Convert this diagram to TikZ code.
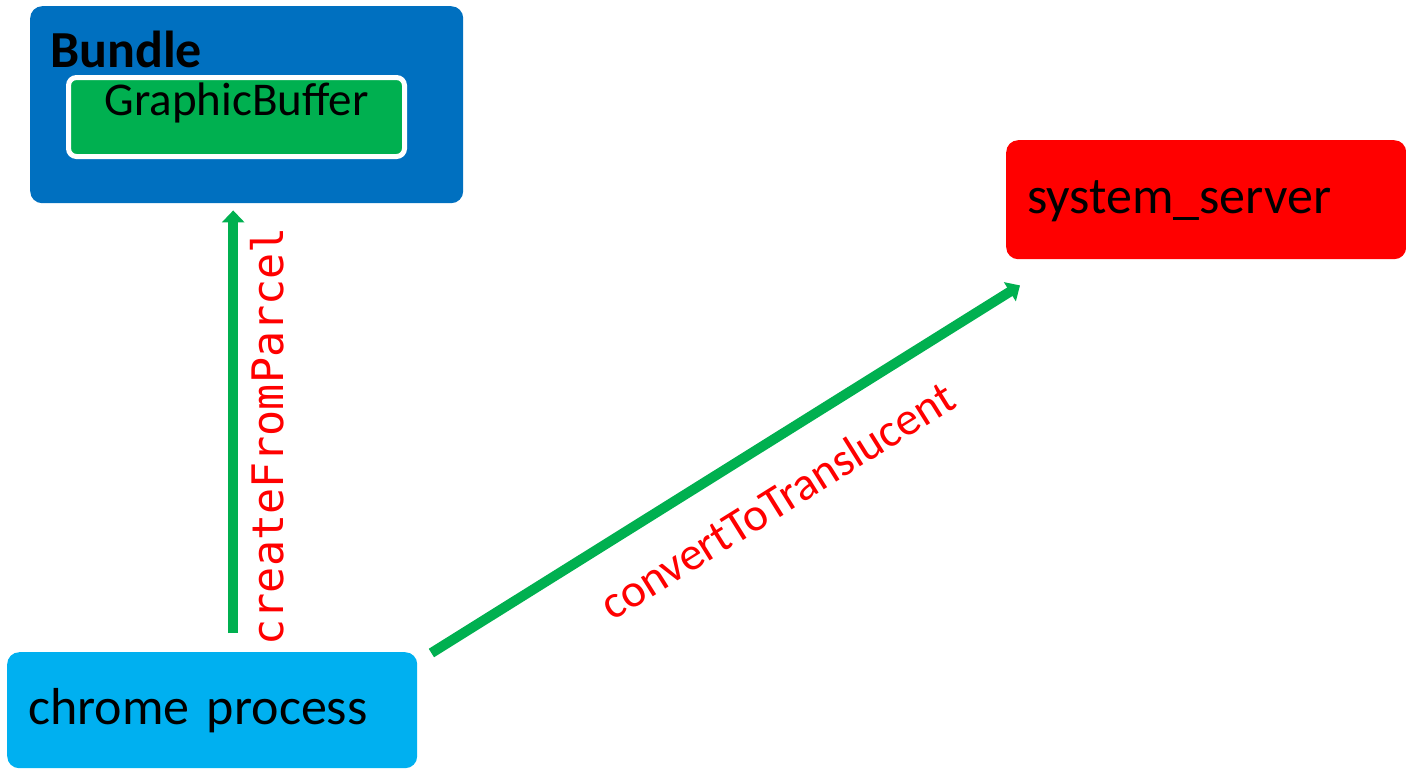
\documentclass[tikz,border=0pt]{standalone}
\usepackage{fontspec}
\setmainfont{Carlito}
\newfontfamily\monofont{DejaVu Sans Mono}
\usetikzlibrary{arrows.meta, positioning}
\definecolor{bundleblue}{HTML}{0070C0}
\definecolor{buffergreen}{HTML}{00B050}
\definecolor{chromeblue}{HTML}{00B0F0}
\tikzset{
  box/.style={rectangle, rounded corners=12pt, inner sep=0pt, anchor=north west, align=left,
    text height=36pt, text depth=8pt, font=\fontsize{52}{60}\selectfont},
  flow/.style={line width=10pt, buffergreen, -{Triangle[length=12pt,width=22pt]}},
  call/.style={text=red, inner sep=0pt, sloped},
}

\begin{document}
\begin{tikzpicture}[x=1pt, y=-1pt]
\useasboundingbox (0,0) rectangle (1406,769);

\node[box, fill=bundleblue, minimum width=433pt, minimum height=197pt] (bundle) at (30,6) {};
\node[anchor=base west, inner sep=0pt, font=\fontsize{52}{60}\selectfont\bfseries] (bundletitle) at (50,67) {Bundle};
\node[rectangle, rounded corners=8pt, fill=buffergreen, draw=white, line width=5pt,
  minimum width=336pt, minimum height=79pt, text height=30pt, text depth=34pt,
  inner sep=0pt, font=\fontsize{47}{56}\selectfont] (buffer) at (236.5,117) {GraphicBuffer};

\node[box, fill=chromeblue, minimum width=410pt, minimum height=116pt, text width=368pt] (chrome) at (7,652) {chrome process};
\node[box, fill=red, minimum width=400pt, minimum height=119pt, text width=358pt] (server) at (1006,140) {system\_server};

\draw[flow, shorten <=19pt, shorten >=7pt] ([xshift=21pt]chrome.north) --
  node[call, pos=0.481, below=12pt, font=\monofont\fontsize{43.4}{50}\selectfont] {createFromParcel}
  ([xshift=-13.5pt]bundle.south);
\draw[flow] ([shift={(14,1)}]chrome.north east) --
  node[call, pos=0.539, below=32pt, font=\fontsize{47}{54}\selectfont] {convertToTranslucent}
  ([shift={(14,26)}]server.south west);
\end{tikzpicture}
\end{document}
